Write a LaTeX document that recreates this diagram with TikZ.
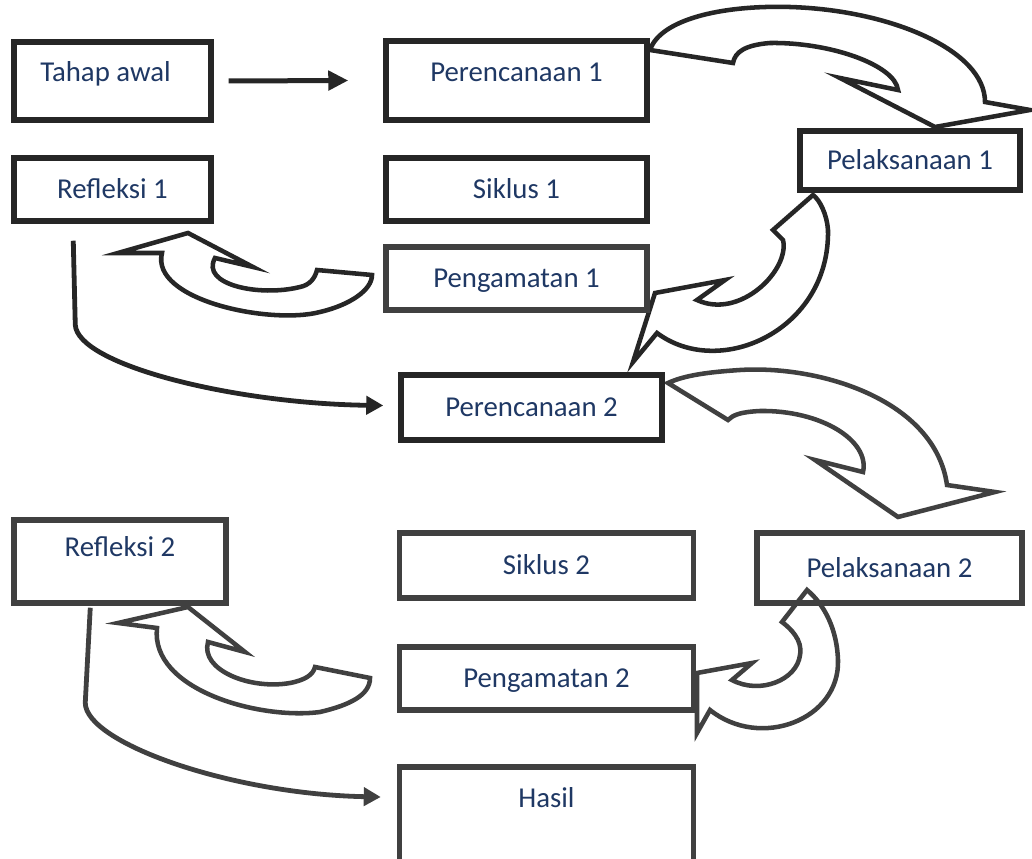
\documentclass[tikz,border=0pt]{standalone}
\usepackage{fontspec}
\setmainfont{Carlito}
\usepackage{tikz}
\usetikzlibrary{arrows.meta,positioning}
\definecolor{inkA}{HTML}{262626}
\definecolor{inkB}{HTML}{404040}
\definecolor{teks}{HTML}{1F3864}
\newcommand{\upx}{0.75pt}
\tikzset
{
  kotak/.style   = {rectangle, draw=inkA, line width=4.1pt, text=teks, align=center, inner sep=0pt, text height=18.1pt, text depth=4.3pt, font=\fontsize{21.6}{26}\selectfont},
  kotakB/.style  = {kotak, draw=inkB},
  naik/.style    = {text depth=#1},
  blok/.style    = {draw=inkA, fill=white, line width=3.4pt, line join=miter},
  blokB/.style   = {blok, draw=inkB},
  sambung/.style = {draw=inkA, line width=3.6pt, -{Triangle[length=12.75pt,width=13.5pt]}}
}
\begin{document}
\begin{tikzpicture}[x=0.75pt,y=-0.75pt]
  \useasboundingbox (0,0) rectangle (1032,859);
  % siklus 1: panah blok
  \draw [blok] (650,50) -- (733,63) .. controls (735,52) and (745,45) .. (770,43) .. controls (830,42) and (895,65) .. (898,90) -- (840,78) -- (935,127) -- (1030,110) -- (985,102) .. controls (985,50) and (890,10) .. (790,7) .. controls (720,5) and (660,20) .. (650,50) -- cycle;
  \draw [blok] (813,195) -- (773,230) -- (783,240) .. controls (790,270) and (740,320) .. (697,300) -- (725,280) -- (655,293) -- (633,362) -- (657,333) .. controls (720,380) and (830,330) .. (828,230) .. controls (827,215) and (820,200) .. (813,195) -- cycle;
  \draw [blok] (372,275) -- (317,270) .. controls (315,278) and (310,285) .. (300,287) .. controls (260,297) and (200,285) .. (215,258) -- (253,267) -- (188,233) -- (118,253) -- (162,253) .. controls (150,300) and (270,325) .. (320,312) .. controls (350,305) and (372,290) .. (372,275) -- cycle;
  % siklus 2: panah blok
  \draw [blokB] (668,383) -- (728,420) .. controls (733,415) and (740,412) .. (760,411) .. controls (820,410) and (870,440) .. (863,472) -- (815,460) -- (898,517) -- (995,492) -- (947,485) .. controls (935,400) and (820,365) .. (740,370) .. controls (710,372) and (685,375) .. (668,383) -- cycle;
  \draw [blokB] (807,590) -- (782,622) .. controls (790,628) and (803,640) .. (800,655) .. controls (797,680) and (760,695) .. (732,680) -- (752,663) -- (697,673) -- (697,733) -- (710,710) .. controls (760,750) and (840,720) .. (838,660) .. controls (837,630) and (825,605) .. (807,590) -- cycle;
  \draw [blokB] (370,678) -- (315,667) .. controls (313,675) and (305,680) .. (290,683) .. controls (250,690) and (200,670) .. (208,642) -- (245,652) -- (188,607) -- (118,623) -- (157,628) .. controls (150,690) and (260,720) .. (320,712) .. controls (350,705) and (370,695) .. (370,678) -- cycle;

  \node [kotak, naik=17.8pt, minimum width=197*\upx, minimum height=78*\upx] (tahap) at (112.5,81) {Tahap awal\kern10.5pt};
  \node [kotak, naik=16.3pt, minimum width=261*\upx, minimum height=79*\upx] (per1) at (516.5,80.5) {Perencanaan 1};
  \node [kotak, minimum width=197*\upx, minimum height=63*\upx] (ref1) at (112.5,189.5) {Refleksi 1};
  \node [kotak, minimum width=261*\upx, minimum height=63*\upx] (sik1) at (516.5,189.5) {Siklus 1};
  \node [kotak, minimum width=220*\upx, minimum height=59*\upx] (pel1) at (910,160.5) {Pelaksanaan 1};
  \node [kotakB, minimum width=261*\upx, minimum height=63*\upx] (amat1) at (516.5,278.5) {Pengamatan 1};
  \node [kotak, minimum width=261*\upx, minimum height=65*\upx] (per2) at (531.5,407.5) {Perencanaan 2};
  \node [kotakB, naik=25.3pt, minimum width=212*\upx, minimum height=83*\upx] (ref2) at (120,561.5) {Refleksi 2};
  \node [kotakB, minimum width=294*\upx, minimum height=65*\upx] (sik2) at (546.5,565.5) {Siklus 2};
  \node [kotakB, minimum width=265*\upx, minimum height=70*\upx] (pel2) at (889.5,568) {Pelaksanaan 2};
  \node [kotakB, minimum width=294*\upx, minimum height=63*\upx] (amat2) at (546.5,678.5) {Pengamatan 2};
  \node [kotakB, naik=40.3pt, minimum width=294*\upx, minimum height=110*\upx] (hasil) at (546.5,822) {Hasil};

  \draw [sambung, line width=3.75pt, -{Triangle[length=15pt,width=14.25pt]}] ([xshift=15*\upx]tahap.east) -- ([xshift=-35*\upx]per1.west);
  \draw [sambung] ([shift={(62,17)}]ref1.south west) -- ++(2,84) .. controls +(2,40) and +(-150,-2) .. ([shift={(-15,-2)}]per2.west);
  \draw [sambung, draw=inkB] ([shift={(79,2)}]ref2.south west) -- ++(-5,95) .. controls +(0,40) and +(-150,-3) .. ([shift={(-16,-25)}]hasil.west);
\end{tikzpicture}
\end{document}
